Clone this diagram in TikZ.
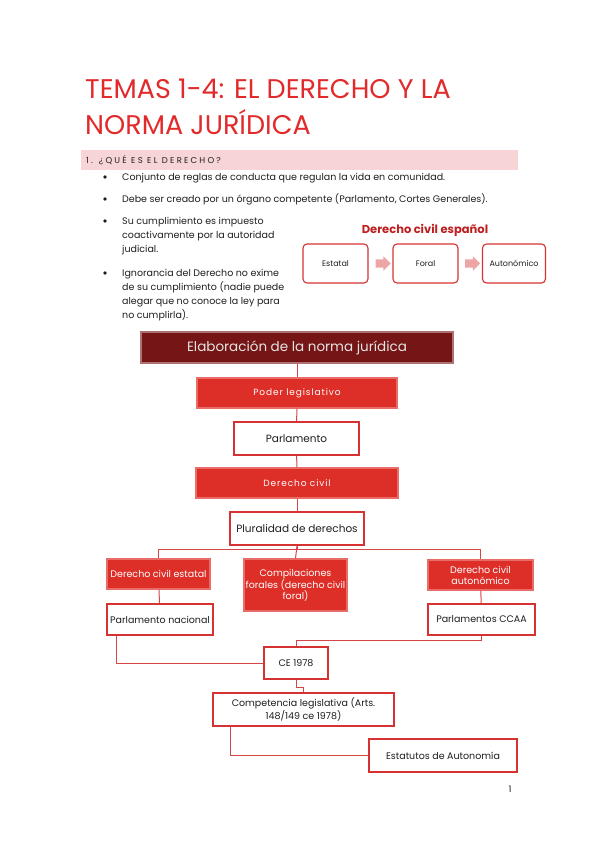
\documentclass[tikz,border=0pt]{standalone}
\usepackage{fontspec}
\setmainfont{Poppins}
\usepackage{xcolor}
\usetikzlibrary{positioning,shapes.arrows}

\definecolor{titlered}{RGB}{226,42,42}
\definecolor{darkred}{RGB}{190,30,30}
\definecolor{barpink}{RGB}{247,213,215}
\definecolor{headred}{RGB}{117,21,21}
\definecolor{fillred}{RGB}{222,46,40}
\definecolor{boxred}{RGB}{215,50,50}
\definecolor{linered}{RGB}{215,70,70}
\definecolor{arrpink}{RGB}{238,165,165}
\definecolor{txt}{RGB}{30,30,30}

\begin{document}
\begin{tikzpicture}[x=1pt,y=-1pt,
  body/.style={font=\fontsize{9.5}{14}\selectfont,text=txt,inner sep=0pt,align=left,anchor=base west},
  dot/.style={circle,fill=txt,inner sep=0pt,minimum size=3.6pt},
  box/.style={draw=boxred,rectangle,line width=1.1pt,fill=white,minimum height=30pt,font=\fontsize{9.5}{11}\selectfont,text=txt,align=center,inner sep=1pt},
  redbox/.style={box,fill=fillred,draw=fillred!70!white,text=white},
  smallbox/.style={box,rounded corners=4pt,minimum width=65pt,minimum height=39pt,font=\fontsize{8}{9}\selectfont},
  conn/.style={draw=linered,line width=1pt},
  spaced/.style={font=\fontsize{9}{10}\selectfont\addfontfeatures{LetterSpace=10}},
  blockarrow/.style={single arrow,fill=arrpink,minimum height=15pt,minimum width=14pt,single arrow head extend=3pt,inner sep=4pt}
]
\useasboundingbox (0,0) rectangle (599,848);

% Title
\node[font=\fontsize{27}{30}\selectfont,text=titlered,anchor=base west,inner sep=0pt] (title1) at (85,99) {TEMAS 1-4: EL DERECHO Y LA};
\node[font=\fontsize{27}{30}\selectfont,text=titlered,anchor=base west,inner sep=0pt] (title2) at (85,135) {NORMA JURÍDICA};

% Section bar
\node[fill=barpink,minimum width=437pt,minimum height=20pt,inner sep=0pt] (secbar) at (299.5,160) {};
\node[font=\fontsize{8.5}{9}\selectfont\addfontfeatures{LetterSpace=26},text=txt,anchor=west,inner sep=0pt] (sectext) at (86,160) {1. ¿QUÉ ES EL DERECHO?};

% Bullets
\node[dot] (b1) at (105,177) {};
\node[dot] (b2) at (105,199) {};
\node[dot] (b3) at (105,221) {};
\node[dot] (b4) at (105,273) {};
\node[body] (t1) at (122,180.5) {Conjunto de reglas de conducta que regulan la vida en comunidad.};
\node[body] (t2) at (122,202.5) {Debe ser creado por un órgano competente (Parlamento, Cortes Generales).};
\node[body] (t3) at (122,252.5) {Su cumplimiento es impuesto\\coactivamente por la autoridad\\judicial.};
\node[body] (t4) at (122,318.5) {Ignorancia del Derecho no exime\\de su cumplimiento (nadie puede\\alegar que no conoce la ley para\\no cumplirla).};

% Derecho civil espanol
\node[font=\fontsize{11.5}{13}\selectfont\bfseries,text=darkred] (dce) at (425,230) {Derecho civil español};
\node[smallbox] (sestatal) at (335.5,263.5) {Estatal};
\node[smallbox] (sforal) at (425.5,263.5) {Foral};
\node[smallbox,minimum width=63pt] (sauto) at (514,263.5) {Autonómico};
\node[blockarrow] (arr1) at (381,263.5) {};
\node[blockarrow] (arr2) at (470.5,263.5) {};

% Elaboracion chart
\node[box,fill=headred,draw=headred!60!white,text=white!90!black,minimum width=312pt,minimum height=31pt,font=\fontsize{13.5}{15}\selectfont] (elab) at (297,347.5) {Elaboración de la norma jurídica};
\node[redbox,spaced,minimum width=200pt] (poder) at (297,393) {Poder legislativo};
\node[box,minimum width=125pt,minimum height=33pt,font=\fontsize{10.5}{12}\selectfont] (parl) at (296.5,438.5) {Parlamento};
\node[redbox,spaced,minimum width=202pt] (dcivil) at (297,483) {Derecho civil};
\node[box,minimum width=134pt,minimum height=33pt,font=\fontsize{10.5}{12}\selectfont] (plural) at (297,528.5) {Pluralidad de derechos};

\node[redbox,minimum width=103pt] (estatal) at (158.5,574) {Derecho civil estatal};
\node[redbox,minimum width=103pt,minimum height=52pt] (compil) at (295.5,585) {Compilaciones\\forales (derecho civil\\foral)};
\node[redbox,minimum width=105pt] (autonom) at (480.5,575) {Derecho civil\\autonómico};
\node[box,minimum width=106pt,minimum height=31pt] (parnac) at (160,619.5) {Parlamento nacional};
\node[box,minimum width=107pt,minimum height=31pt] (ccaa) at (481.5,619.5) {Parlamentos CCAA};
\node[box,minimum width=64pt,minimum height=32pt] (ce) at (296,663) {CE 1978};
\node[box,minimum width=181pt,minimum height=33pt] (comp) at (303.5,709.5) {Competencia legislativa (Arts.\\148/149 ce 1978)};
\node[box,minimum width=148pt,minimum height=33pt] (estat) at (443,755.5) {Estatutos de Autonomía};

% Connectors
\draw[conn] (elab) -- (poder);
\draw[conn] (poder) -- (parl);
\draw[conn] (parl) -- (dcivil);
\draw[conn] (dcivil) -- (plural);
\draw[conn] (plural.south) -- ++(0,4) -| (estatal.north);
\draw[conn] (plural.south) -- ++(0,4) -| (autonom.north);
\draw[conn] (plural.south) -- (compil.north);
\draw[conn] (estatal) -- (parnac);
\draw[conn] (autonom) -- (ccaa);
\draw[conn] ([xshift=10pt]parnac.south west) |- (ce.west);
\draw[conn] (ccaa.south) -- ++(0,5) -| (ce.north);
\draw[conn] (ce.south) -- ++(0,8) -| (comp.north);
\draw[conn] ([xshift=18pt]comp.south west) |- (estat.west);

% Page number
\node[font=\fontsize{9}{10}\selectfont,text=txt] (pagenum) at (510,789) {1};
\end{tikzpicture}
\end{document}
